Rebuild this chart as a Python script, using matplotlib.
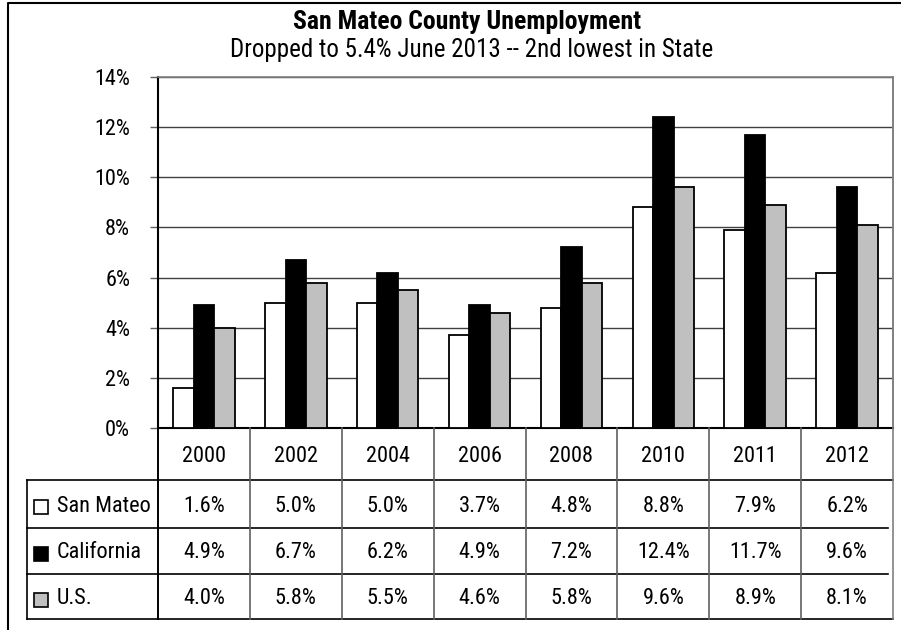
import numpy as np
import matplotlib
matplotlib.use("Agg")
import matplotlib.pyplot as plt
from matplotlib import transforms
from matplotlib.font_manager import fontManager

years = ["2000", "2002", "2004", "2006", "2008", "2010", "2011", "2012"]
series = ["San Mateo", "California", "U.S."]
san_mateo = [1.6, 5.0, 5.0, 3.7, 4.8, 8.8, 7.9, 6.2]
california = [4.9, 6.7, 6.2, 4.9, 7.2, 12.4, 11.7, 9.6]
us = [4.0, 5.8, 5.5, 4.6, 5.8, 9.6, 8.9, 8.1]
yticks = [0, 2, 4, 6, 8, 10, 12, 14]

colors = ["white", "black", "#c0c0c0"]

# pick a narrow sans if one is around
names = {f.name for f in fontManager.ttflist}
prefs = ["Liberation Sans Narrow", "Arial Narrow", "Roboto Condensed",
         "Archivo Narrow", "PT Sans Narrow", "Liberation Sans"]
fam = next(p for p in prefs if p in names or p == "Liberation Sans")
plt.rcParams["font.family"] = [fam, "DejaVu Sans"]
FS = 16

W, H = 901, 630
fig = plt.figure(figsize=(W / 100, H / 100), dpi=100)

# pixel layout of plot area and table
px_left, px_right = 158, 893
px_top, px_bottom = 77, 428
ax = fig.add_axes([px_left / W, 1 - px_bottom / H,
                   (px_right - px_left) / W, (px_bottom - px_top) / H])

n = len(years)
x = np.arange(n)
bw = 0.223
for i, vals in enumerate([san_mateo, california, us]):
    ax.bar(x + (i - 1) * bw, vals, bw, color=colors[i], edgecolor="black",
           linewidth=1.3, zorder=3)

ax.set_xlim(-0.5, n - 0.5)
ax.set_ylim(0, 14)
ax.set_yticks(yticks)
ax.set_yticklabels([f"{v}%" for v in yticks], fontsize=FS)
ax.tick_params(axis="y", length=6, width=1, color="#606060", pad=14)
ax.tick_params(axis="x", length=0, labelbottom=False)
ax.grid(axis="y", color="#404040", linewidth=1, zorder=0)
for s in ["top", "right"]:
    ax.spines[s].set_color("#808080")
    ax.spines[s].set_linewidth(1.2)
ax.spines["left"].set_linewidth(1.5)
ax.spines["bottom"].set_linewidth(1.5)

# data table beneath the axes: x in data units, y in pixels from top
tr = transforms.blended_transform_factory(ax.transData, fig.transFigure)
def fy(py):
    return 1 - py / H

unit = (px_right - px_left) / n
leg_left = -0.5 - (px_left - 27) / unit
rows = [428, 480, 528, 574, 619]

def hline(py, x0, x1, color="black", lw=1.2):
    fig.add_artist(plt.Line2D([x0, x1], [fy(py), fy(py)], transform=tr,
                              color=color, lw=lw, clip_on=False))

def vline(xd, y0, y1, color="black", lw=1.2):
    fig.add_artist(plt.Line2D([xd, xd], [fy(y0), fy(y1)], transform=tr,
                              color=color, lw=lw, clip_on=False))

hline(rows[1], leg_left, n - 0.5)
hline(rows[2], leg_left, n - 0.55)
hline(rows[3], leg_left, n - 0.55)
hline(rows[4], leg_left, n - 0.5)
vline(leg_left, rows[1], rows[4])
vline(-0.5, rows[0], rows[4], lw=1.4)
for k in range(1, n):
    vline(k - 0.5, rows[0], rows[4], color="#606060")
vline(n - 0.5, px_top, rows[4], color="#808080")

for j, yr in enumerate(years):
    fig.text(j, fy((rows[0] + rows[1]) / 2 + 2), yr, transform=tr,
             ha="center", va="center", fontsize=FS)

for i, vals in enumerate([san_mateo, california, us]):
    yc = fy((rows[i + 1] + rows[i + 2]) / 2 + 2)
    for j, v in enumerate(vals):
        fig.text(j, yc, f"{v:.1f}%", transform=tr, ha="center", va="center",
                 fontsize=FS)
    # legend key
    sq = plt.Rectangle((34 / W, yc - 8 / H), 14 / W, 14 / H,
                       transform=fig.transFigure, facecolor=colors[i],
                       edgecolor="black", lw=1.2)
    fig.add_artist(sq)
    fig.text(57 / W, yc, series[i], ha="left", va="center", fontsize=FS)

fig.text(467 / W, fy(22), "San Mateo County Unemployment", ha="center",
         va="center", fontsize=18.5, fontweight="bold")
fig.text(472 / W, fy(50), "Dropped to 5.4% June 2013 -- 2nd lowest in State",
         ha="center", va="center", fontsize=18)

# outer chart border (left and top edges visible)
fig.add_artist(plt.Line2D([8 / W, 8 / W, 1], [0, fy(3), fy(3)],
                          transform=fig.transFigure, color="black", lw=1.5))

fig.savefig("out.png", dpi=100)
